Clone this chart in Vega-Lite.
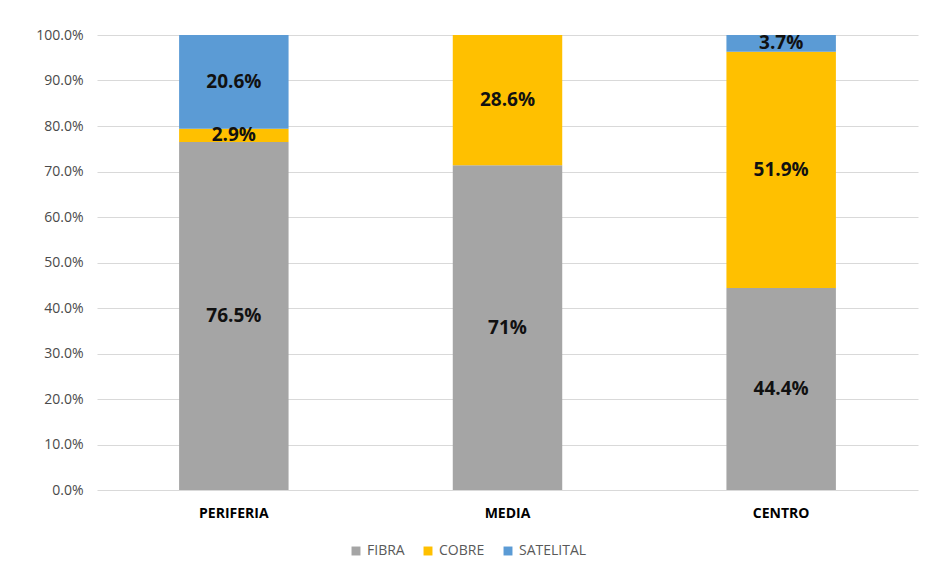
{
  "$schema": "https://vega.github.io/schema/vega-lite/v6.json",
  "width": 821,
  "height": 455,
  "autosize": {"type": "none"},
  "padding": {"left": 97, "top": 35, "right": 8, "bottom": 88},
  "background": "white",
  "config": {
    "view": {"stroke": null},
    "font": "Open Sans"
  },
  "data": {
    "values": [
      {"zona": "PERIFERIA", "serie": "FIBRA", "idx": 1, "valor": 76.5, "label": "76.5%"},
      {"zona": "PERIFERIA", "serie": "COBRE", "idx": 2, "valor": 2.9, "label": "2.9%"},
      {"zona": "PERIFERIA", "serie": "SATELITAL", "idx": 3, "valor": 20.6, "label": "20.6%"},
      {"zona": "MEDIA", "serie": "FIBRA", "idx": 1, "valor": 71.4, "label": "71%"},
      {"zona": "MEDIA", "serie": "COBRE", "idx": 2, "valor": 28.6, "label": "28.6%"},
      {"zona": "CENTRO", "serie": "FIBRA", "idx": 1, "valor": 44.4, "label": "44.4%"},
      {"zona": "CENTRO", "serie": "COBRE", "idx": 2, "valor": 51.9, "label": "51.9%"},
      {"zona": "CENTRO", "serie": "SATELITAL", "idx": 3, "valor": 3.7, "label": "3.7%"}
    ]
  },
  "transform": [
    {"stack": "valor", "groupby": ["zona"], "sort": [{"field": "idx", "order": "ascending"}], "as": ["y0", "y1"]}
  ],
  "encoding": {
    "x": {
      "field": "zona",
      "type": "nominal",
      "sort": ["PERIFERIA", "MEDIA", "CENTRO"],
      "scale": {"paddingInner": 0.6, "paddingOuter": 0.3},
      "axis": {
        "title": null,
        "labelAngle": 0,
        "labelFont": "Open Sans",
        "labelFontWeight": "bold",
        "labelFontSize": 14,
        "labelColor": "#000000",
        "labelPadding": 16,
        "ticks": false,
        "domain": false
      }
    }
  },
  "layer": [
    {
      "mark": {"type": "bar"},
      "encoding": {
        "y": {
          "field": "y0",
          "type": "quantitative",
          "scale": {"domain": [0, 100], "nice": false},
          "axis": {
            "title": null,
            "values": [0, 10, 20, 30, 40, 50, 60, 70, 80, 90, 100],
            "labelExpr": "format(datum.value, '.1f') + '%'",
            "labelFont": "Open Sans",
            "labelFontSize": 14,
            "labelColor": "#4a4a4a",
            "labelPadding": 14,
            "ticks": false,
            "domain": false,
            "grid": true,
            "gridColor": "#d9d9d9",
            "gridWidth": 1
          }
        },
        "y2": {"field": "y1"},
        "color": {
          "field": "serie",
          "type": "nominal",
          "scale": {"domain": ["FIBRA", "COBRE", "SATELITAL"], "range": ["#A5A5A5", "#FFC000", "#5B9BD5"]},
          "legend": {
            "title": null,
            "orient": "none",
            "legendX": 252,
            "legendY": 509,
            "direction": "horizontal",
            "symbolType": "square",
            "symbolSize": 80,
            "labelFont": "Open Sans",
            "labelFontSize": 14,
            "labelColor": "#595959",
            "columnPadding": 16
          }
        }
      }
    },
    {
      "transform": [
        {"fold": ["y0", "y1"], "as": ["k", "pos"]},
        {"aggregate": [{"op": "mean", "field": "pos", "as": "mid"}], "groupby": ["zona", "serie", "label"]}
      ],
      "mark": {"type": "text", "font": "Open Sans", "fontWeight": "bold", "fontSize": 19, "color": "#111111", "baseline": "middle", "align": "center"},
      "encoding": {
        "y": {"field": "mid", "type": "quantitative"},
        "text": {"field": "label", "type": "nominal"}
      }
    }
  ]
}
